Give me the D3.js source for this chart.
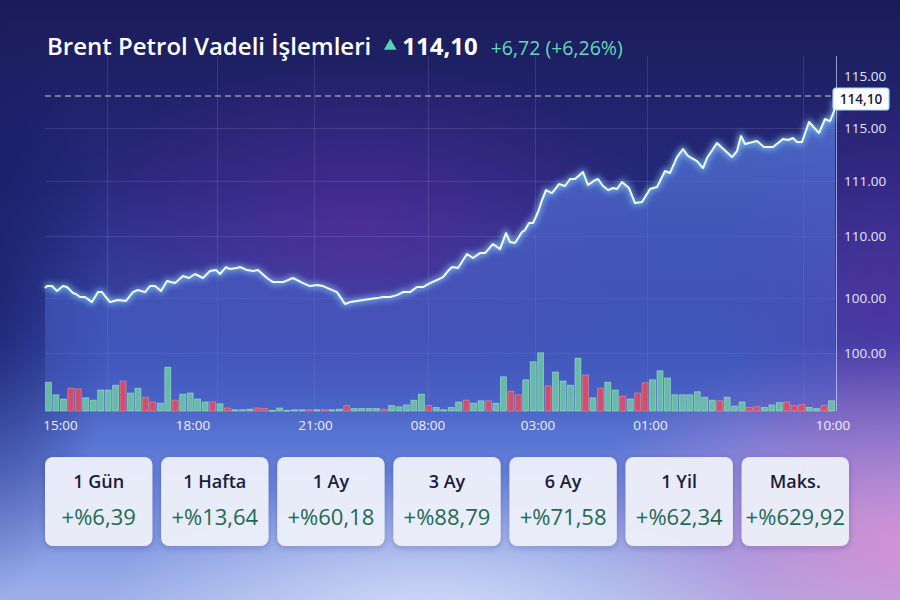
<!DOCTYPE html>
<html lang="tr">
<head>
<meta charset="utf-8">
<title>Brent Petrol Vadeli İşlemleri</title>
<script src="https://cdn.jsdelivr.net/npm/d3@7"></script>
<style>
  html, body { margin: 0; padding: 0; background: #1b1d5a; }
  svg { display: block; font-family: "Open Sans", "Noto Sans", sans-serif; }
</style>
</head>
<body>
<div id="chart"></div>
<script>
// ---- data ----
const titleText = "Brent Petrol Vadeli İşlemleri";
const lastPrice = 114.10;
const priceChange = 6.72;
const priceChangePct = 6.26;

// time steps (session units) and prices
const priceSteps = [0,0.4,1.4,2.4,3.6,4.4,5.6,6.2,7,8,9.4,10.6,11.4,13,14.6,16.2,17.6,18.6,20,21,22,23.2,24.4,26,27.6,28.8,30,31.6,33,34.2,35,36.2,37,38.4,39,40.4,41.6,42.6,44.4,45.6,47.6,49.6,51.6,53,54.4,55.6,57,58.4,60,61,62.4,63.6,65,66.4,67.6,69,70.4,71.6,73,74.4,75.6,77,78.4,79.6,80.6,81.4,82.6,84.4,85.6,87,88,89.6,91,92.2,93,94,95.4,96,96.8,97.6,98.6,99.4,100.2,101.4,102.8,104,105,106,107.6,108.6,110,110.6,111.6,112.6,113.6,114.4,115.4,116.8,118,119.4,121,122.4,124,125,126.4,127.6,128.6,130.4,131.6,132.4,134.4,137.4,138.4,139.2,140,142.4,143.8,145.6,147.6,148.6,149.6,150.4,151.4,152.8,154.8,156,157,157.8,158];
const priceValues = [100.08,100.22,100.22,99.86,100.22,100.15,99.71,99.64,99.42,99.42,99.05,99.78,99.78,99.05,99.20,99.13,99.78,99.93,99.78,100.22,100.22,99.86,100.59,100.44,100.95,100.81,101.10,100.81,101.32,101.39,101.10,101.61,101.46,101.54,101.61,101.39,101.32,101.39,100.81,100.51,100.51,100.81,100.44,100.22,100.29,100.22,100.00,99.78,98.91,99.05,99.13,99.20,99.27,99.34,99.42,99.42,99.56,99.78,99.78,100.15,100.15,100.44,100.66,100.88,101.32,101.61,101.54,102.56,102.27,102.63,102.63,103.29,102.92,104.09,103.44,103.36,104.17,104.31,104.82,104.82,105.63,106.50,107.23,107.01,107.67,107.53,108.04,108.04,108.55,107.60,107.96,108.04,107.53,107.23,107.38,107.31,107.82,107.38,106.28,106.36,107.31,107.45,108.62,108.48,109.64,110.23,109.72,109.35,108.84,109.57,110.67,109.64,110.08,111.18,110.59,110.81,110.37,110.37,110.96,110.89,111.03,110.74,110.74,112.20,111.40,112.42,112.27,113.00,113.81];

// volume bars, g = up, r = down
const volumeValues = [48,27,20,38,37,22,18,35,35,43,50,30,38,23,15,13,73,18,28,30,20,15,15,12,5,2,2,3,5,4,1,5,1,2,2,2,2,2,2,3,9,4,4,4,4,3,9,7,10,18,28,9,6,2,6,15,18,13,17,17,13,57,33,27,52,82,97,42,65,50,43,88,60,22,38,48,35,25,20,30,47,52,67,55,27,27,27,32,23,18,17,23,8,15,6,7,6,10,14,15,9,11,6,4,9,17];
const volumeDirs = ("gggrrggggg" + "rggrrggrgg" + "ggrgrgggrr" + "gggggrgrgg" + "rggggrgggg" +
                    "grggggrggr" + "ggrrgggrgg" + "ggrgrggrgr" + "rggggggggg" + "rgggrrgggr" + "rrggrg").split("");

const xTickSteps = [3, 29.5, 54, 76.5, 98.5, 121, 157.5];
const xTickLabels = ["15:00", "18:00", "21:00", "08:00", "03:00", "01:00", "10:00"];
const xGridSteps = [12.4, 34.4, 53.8, 76.6, 98, 120.4, 151.6];

const yTickValues = [115.56, 111.77, 107.9, 103.88, 99.35, 95.33];
const yTickLabels = ["115.00", "115.00", "111.00", "110.00", "100.00", "100.00"];

const periods = ["1 Gün", "1 Hafta", "1 Ay", "3 Ay", "6 Ay", "1 Yil", "Maks."];
const periodChanges = [6.39, 13.64, 60.18, 88.79, 71.58, 62.34, 629.92];

// ---- setup ----
const W = 900, H = 600;
const plot = { left: 45, right: 836, top: 56, bottom: 411 };
const comma = v => d3.format(".2f")(v).replace(".", ",");

const svg = d3.select("#chart").append("svg")
    .attr("width", W)
    .attr("height", H);
const defs = svg.append("defs");

// background
const bg = defs.append("linearGradient").attr("id", "bg")
    .attr("x1", 0).attr("y1", 0).attr("x2", 0).attr("y2", 1);
[["0%", "#1a1c58"], ["30%", "#25287a"], ["58%", "#3a4cae"], ["74%", "#5a76d4"], ["100%", "#9eb0ea"]]
    .forEach(([o, c]) => bg.append("stop").attr("offset", o).attr("stop-color", c));

function radial(id, color, op) {
    const g = defs.append("radialGradient").attr("id", id);
    g.append("stop").attr("offset", "0%").attr("stop-color", color).attr("stop-opacity", op);
    g.append("stop").attr("offset", "100%").attr("stop-color", color).attr("stop-opacity", 0);
}
radial("gPurple", "#6a2ca6", 0.5);
radial("gPink", "#e08fd2", 0.85);
radial("gLight", "#e6ecfc", 0.7);
radial("gDark", "#11165a", 0.7);
radial("gPurpleR", "#5a2a9c", 0.6);

svg.append("rect").attr("width", W).attr("height", H).attr("fill", "url(#bg)");
svg.append("ellipse").attr("cx", 360).attr("cy", 230).attr("rx", 300).attr("ry", 170).attr("fill", "url(#gPurple)");
svg.append("ellipse").attr("cx", 880).attr("cy", 300).attr("rx", 160).attr("ry", 220).attr("fill", "url(#gPurpleR)");
svg.append("ellipse").attr("cx", 900).attr("cy", 540).attr("rx", 330).attr("ry", 200).attr("fill", "url(#gPink)");
svg.append("ellipse").attr("cx", 430).attr("cy", 620).attr("rx", 330).attr("ry", 150).attr("fill", "url(#gLight)");
svg.append("ellipse").attr("cx", -20).attr("cy", 300).attr("rx", 130).attr("ry", 300).attr("fill", "url(#gDark)");

// glow filter for line
const glow = defs.append("filter").attr("id", "glow")
    .attr("x", "-5%").attr("y", "-20%").attr("width", "110%").attr("height", "140%");
glow.append("feGaussianBlur").attr("stdDeviation", 3);

const shadow = defs.append("filter").attr("id", "shadow")
    .attr("x", "-10%").attr("y", "-10%").attr("width", "120%").attr("height", "130%");
shadow.append("feDropShadow").attr("dx", 0).attr("dy", 2).attr("stdDeviation", 3)
    .attr("flood-color", "#1c2060").attr("flood-opacity", 0.25);

const areaGrad = defs.append("linearGradient").attr("id", "areaGrad")
    .attr("gradientUnits", "userSpaceOnUse")
    .attr("x1", 0).attr("y1", 100).attr("x2", 0).attr("y2", plot.bottom);
areaGrad.append("stop").attr("offset", "0%").attr("stop-color", "#5b82e6").attr("stop-opacity", 0.75);
areaGrad.append("stop").attr("offset", "60%").attr("stop-color", "#4a66cc").attr("stop-opacity", 0.55);
areaGrad.append("stop").attr("offset", "100%").attr("stop-color", "#4660c8").attr("stop-opacity", 0.35);

// ---- scales ----
const x = d3.scaleLinear().domain([0, 158]).range([plot.left, 835]);
const y = d3.scaleLinear().domain([90, 116]).range([426, 70]);
const v = d3.scaleLinear().domain([0, 100]).range([plot.bottom, 351]);
const band = d3.scaleBand().domain(d3.range(volumeValues.length))
    .range([44, plot.right]).padding(0.2);

const prices = d3.zip(priceSteps, priceValues);

// ---- grid ----
const grid = svg.append("g").attr("stroke", "#c8d0ff").attr("stroke-opacity", 0.14).attr("stroke-width", 1);
grid.selectAll("line.h")
    .data(yTickValues.slice(1))
    .join("line")
    .attr("class", "h")
    .attr("x1", plot.left).attr("x2", plot.right)
    .attr("y1", d => Math.round(y(d)) + 0.5).attr("y2", d => Math.round(y(d)) + 0.5);
grid.selectAll("line.v")
    .data(xGridSteps)
    .join("line")
    .attr("class", "v")
    .attr("x1", d => Math.round(x(d)) + 0.5).attr("x2", d => Math.round(x(d)) + 0.5)
    .attr("y1", plot.top).attr("y2", plot.bottom);

// ---- area + line ----
svg.append("path")
    .datum(prices)
    .attr("fill", "url(#areaGrad)")
    .attr("d", d3.area().x(d => x(d[0])).y0(plot.bottom).y1(d => y(d[1])));

// volume bars
svg.append("g").selectAll("rect")
    .data(volumeValues)
    .join("rect")
    .attr("x", (d, i) => band(i))
    .attr("width", band.bandwidth())
    .attr("y", d => v(d))
    .attr("height", d => Math.max(0.8, plot.bottom - v(d)))
    .attr("fill", (d, i) => volumeDirs[i] === "g" ? "#6ccba2" : "#e44d5c")
    .attr("fill-opacity", 0.85)
    .attr("stroke", (d, i) => volumeDirs[i] === "g" ? "#b4f2d6" : "#ff9aa4")
    .attr("stroke-opacity", 0.6)
    .attr("stroke-width", 0.8);

const line = d3.line().x(d => x(d[0])).y(d => y(d[1]));
svg.append("path")
    .datum(prices)
    .attr("fill", "none")
    .attr("stroke", "#8fe3ff")
    .attr("stroke-width", 4)
    .attr("stroke-opacity", 0.8)
    .attr("filter", "url(#glow)")
    .attr("d", line);
svg.append("path")
    .datum(prices)
    .attr("fill", "none")
    .attr("stroke", "#f0faff")
    .attr("stroke-width", 2)
    .attr("stroke-linejoin", "round")
    .attr("d", line);

// last price dashed line + label
svg.append("line")
    .attr("x1", plot.left).attr("x2", plot.right)
    .attr("y1", y(lastPrice)).attr("y2", y(lastPrice))
    .attr("stroke", "#ffffff").attr("stroke-opacity", 0.75)
    .attr("stroke-dasharray", "6,4").attr("stroke-width", 1);

// y axis line
svg.append("line")
    .attr("x1", plot.right + 0.5).attr("x2", plot.right + 0.5)
    .attr("y1", plot.top).attr("y2", plot.bottom)
    .attr("stroke", "#c9d0ff").attr("stroke-opacity", 0.7);

const yAxis = svg.append("g")
    .attr("transform", `translate(${plot.right + 3},0)`)
    .call(d3.axisRight(y).tickValues(yTickValues).tickSize(0).tickPadding(5)
        .tickFormat((d, i) => yTickLabels[i]));
yAxis.select(".domain").remove();
yAxis.selectAll("text")
    .attr("fill", "#e2e6ff")
    .style("font-size", "13.5px")
    .style("font-family", "'Open Sans', sans-serif");

const xAxis = svg.append("g")
    .attr("transform", `translate(0,${plot.bottom + 6})`)
    .call(d3.axisBottom(x).tickValues(xTickSteps).tickSize(0).tickPadding(3)
        .tickFormat((d, i) => xTickLabels[i]));
xAxis.select(".domain").remove();
xAxis.selectAll("text")
    .attr("fill", "#eef0ff")
    .style("font-size", "13.5px")
    .style("font-family", "'Open Sans', sans-serif");

const tag = svg.append("g").attr("transform", `translate(${plot.right - 3},${y(lastPrice) - 8})`);
tag.append("rect")
    .attr("width", 56).attr("height", 22).attr("rx", 3)
    .attr("fill", "#ffffff")
    .attr("stroke", "#9fd6ff").attr("stroke-width", 1.2);
tag.append("text")
    .attr("x", 28).attr("y", 15.5)
    .attr("text-anchor", "middle")
    .attr("fill", "#16193f")
    .style("font-size", "13.5px")
    .style("font-weight", 600)
    .text(comma(lastPrice));

// ---- title ----
const title = svg.append("g").attr("transform", "translate(47,55)");
let cx = 0;
const t1 = title.append("text")
    .attr("x", cx).attr("fill", "#ffffff")
    .style("font-size", "24px").style("font-weight", 600)
    .text(titleText);
cx += t1.node().getComputedTextLength() + 14;
title.append("path")
    .attr("d", d3.symbol(d3.symbolTriangle, 70)())
    .attr("transform", `translate(${cx + 5},-9)`)
    .attr("fill", "#55d3b4");
cx += 17;
const t2 = title.append("text")
    .attr("x", cx).attr("fill", "#ffffff")
    .style("font-size", "24px").style("font-weight", 700)
    .text(comma(lastPrice));
cx += t2.node().getComputedTextLength() + 13;
title.append("text")
    .attr("x", cx).attr("fill", "#62d8bc")
    .style("font-size", "19.5px")
    .text(`+${comma(priceChange)} (+${comma(priceChangePct)}%)`);

// ---- period cards ----
const cards = d3.scaleBand().domain(periods).range([45, 849]).paddingInner(0.075);
const card = svg.append("g").selectAll("g")
    .data(periods)
    .join("g")
    .attr("transform", d => `translate(${cards(d)},457)`);
card.append("rect")
    .attr("width", cards.bandwidth()).attr("height", 89).attr("rx", 8)
    .attr("fill", "#eef0fb").attr("fill-opacity", 0.95)
    .attr("filter", "url(#shadow)");
card.append("text")
    .attr("x", cards.bandwidth() / 2).attr("y", 31)
    .attr("text-anchor", "middle")
    .attr("fill", "#1a1c3c")
    .style("font-size", "18px").style("font-weight", 600)
    .text(d => d);
card.append("text")
    .attr("x", cards.bandwidth() / 2).attr("y", 68)
    .attr("text-anchor", "middle")
    .attr("fill", "#1d6a55")
    .style("font-size", "22px")
    .text((d, i) => "+%" + comma(periodChanges[i]));
</script>
</body>
</html>
